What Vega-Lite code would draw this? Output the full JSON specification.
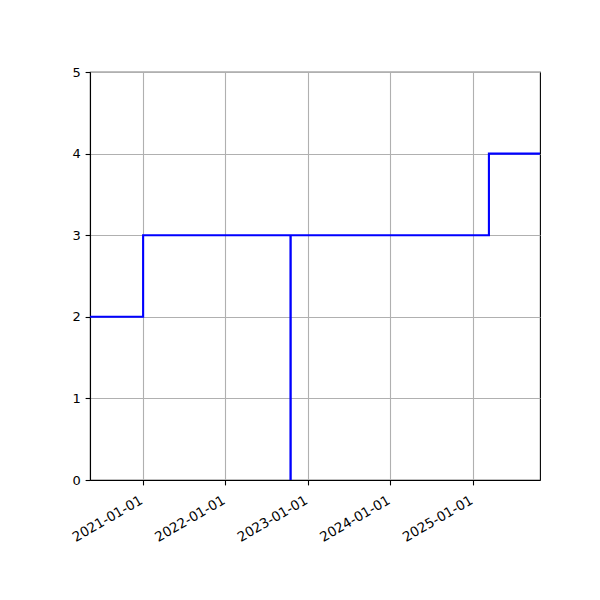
{
  "$schema": "https://vega.github.io/schema/vega-lite/v6.json",
  "autosize": "none",
  "width": 450,
  "height": 408,
  "padding": {"left": 90, "top": 72, "right": 60, "bottom": 120},
  "background": "white",
  "data": {
    "values": [
      {"date": "2020-05-13", "value": 2, "seq": 1},
      {"date": "2021-01-03", "value": 3, "seq": 2},
      {"date": "2022-10-17", "value": 0, "seq": 3},
      {"date": "2022-10-18", "value": 3, "seq": 4},
      {"date": "2025-03-13", "value": 4, "seq": 5},
      {"date": "2025-10-25", "value": 4, "seq": 6}
    ]
  },
  "mark": {"type": "line", "interpolate": "step-after", "color": "blue", "strokeWidth": 2.1, "clip": true},
  "encoding": {
    "x": {
      "field": "date",
      "type": "temporal",
      "scale": {
        "type": "utc",
        "domain": [
          {"year": 2020, "month": 5, "date": 13, "utc": true},
          {"year": 2025, "month": 10, "date": 25, "utc": true}
        ]
      },
      "axis": {
        "title": null,
        "format": "%Y-%m-%d",
        "values": [
          {"year": 2021, "month": 1, "date": 1, "utc": true},
          {"year": 2022, "month": 1, "date": 1, "utc": true},
          {"year": 2023, "month": 1, "date": 1, "utc": true},
          {"year": 2024, "month": 1, "date": 1, "utc": true},
          {"year": 2025, "month": 1, "date": 1, "utc": true}
        ],
        "labelAngle": -30,
        "labelAlign": "right",
        "labelBaseline": "top",
        "labelPadding": 8,
        "labelOffset": -5,
        "labelFontSize": 13.5,
        "labelFlush": false,
        "labelOverlap": false
      }
    },
    "y": {
      "field": "value",
      "type": "quantitative",
      "scale": {"domain": [0, 5], "nice": false, "zero": false},
      "axis": {"title": null, "values": [0, 1, 2, 3, 4, 5], "labelPadding": 4.9}
    },
    "order": {"field": "seq"}
  },
  "config": {
    "font": "DejaVu Sans",
    "view": {"stroke": "black", "strokeWidth": 1.1},
    "axis": {
      "domain": true,
      "domainColor": "black",
      "domainWidth": 1.1,
      "tickColor": "black",
      "tickSize": 4.9,
      "tickWidth": 1.1,
      "grid": true,
      "gridColor": "#b0b0b0",
      "gridWidth": 1.1,
      "labelFont": "DejaVu Sans",
      "labelFontSize": 13,
      "labelColor": "black"
    }
  }
}
